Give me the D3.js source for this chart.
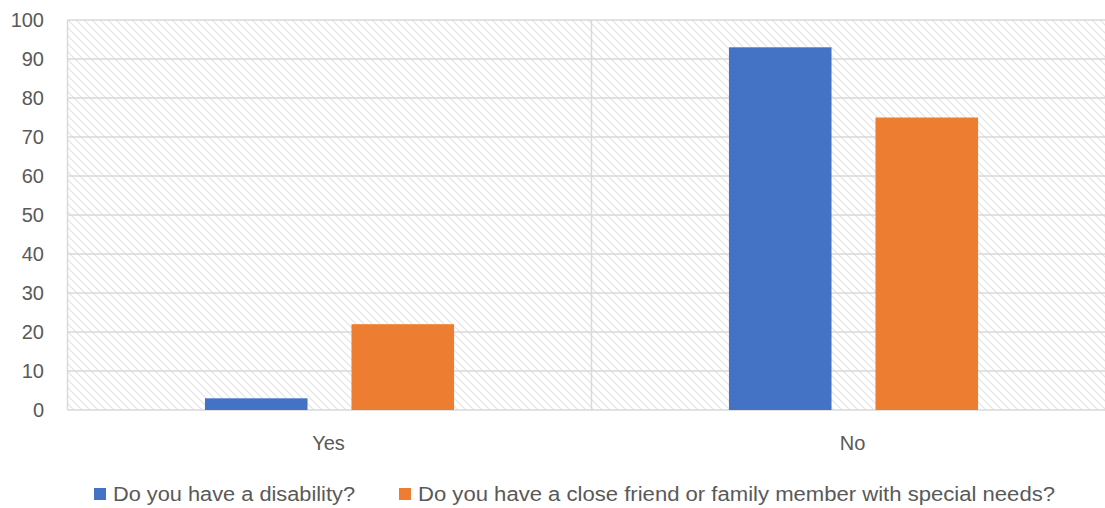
<!DOCTYPE html>
<html>
<head>
<meta charset="utf-8">
<script src="https://cdn.jsdelivr.net/npm/d3@7"></script>
<style>
  body { margin: 0; background: #fff; }
  svg text { font-family: "Liberation Sans", Arial, sans-serif; fill: #595959; }
</style>
</head>
<body>
<div id="chart"></div>
<script>
// data
const categories = ["Yes", "No"];
const seriesNames = ["Do you have a disability?", "Do you have a close friend or family member with special needs?"];
const disability = [3, 93];
const friendFamily = [22, 75];
const yTicks = [0, 10, 20, 30, 40, 50, 60, 70, 80, 90, 100];
const colors = ["#4472c4", "#ed7d31"];

const width = 1105, height = 508;

const svg = d3.select("#chart").append("svg")
    .attr("width", width)
    .attr("height", height);

// hatch pattern for plot background
const defs = svg.append("defs");
const pat = defs.append("pattern")
    .attr("id", "hatch")
    .attr("patternUnits", "userSpaceOnUse")
    .attr("width", 8)
    .attr("height", 8);
pat.append("path")
    .attr("d", "M-2,-2 L10,10 M-2,6 L2,10 M6,-2 L10,2")
    .attr("stroke", "#e2e2e2")
    .attr("stroke-width", 1.2);

const x0 = d3.scaleBand()
    .domain(categories)
    .range([67.5, 1115.5]);

const x1 = d3.scaleBand()
    .domain(seriesNames)
    .range([0, x0.bandwidth()])
    .paddingInner(0.3)
    .paddingOuter(0.938);

const y = d3.scaleLinear()
    .domain([0, 100])
    .range([410, 20]);

svg.append("rect")
    .attr("x", x0.range()[0])
    .attr("y", y(100))
    .attr("width", x0.range()[1] - x0.range()[0])
    .attr("height", y(0) - y(100))
    .attr("fill", "url(#hatch)");

// gridlines
svg.selectAll(".grid")
    .data(yTicks)
    .enter().append("line")
    .attr("class", "grid")
    .attr("x1", x0.range()[0])
    .attr("x2", x0.range()[1])
    .attr("y1", d => y(d))
    .attr("y2", d => y(d))
    .attr("stroke", "#d9d9d9")
    .attr("stroke-width", 1.5);

// category dividers
svg.selectAll(".vdiv")
    .data(categories.concat(["end"]))
    .enter().append("line")
    .attr("class", "vdiv")
    .attr("x1", (d, i) => x0.range()[0] + i * x0.bandwidth())
    .attr("x2", (d, i) => x0.range()[0] + i * x0.bandwidth())
    .attr("y1", y(100))
    .attr("y2", y(0))
    .attr("stroke", "#d9d9d9")
    .attr("stroke-width", 1.5);

// y tick labels
svg.selectAll(".ytick")
    .data(yTicks)
    .enter().append("text")
    .attr("class", "ytick")
    .attr("x", 44)
    .attr("y", d => y(d))
    .attr("dy", "0.36em")
    .attr("text-anchor", "end")
    .style("font-size", "20px")
    .text(d => d);

// bars
const rows = categories.map((c, i) => ({ cat: c, values: [disability[i], friendFamily[i]] }));

const groups = svg.selectAll(".cat")
    .data(rows)
    .enter().append("g")
    .attr("class", "cat")
    .attr("transform", d => "translate(" + x0(d.cat) + ",0)");

groups.selectAll("rect")
    .data(d => d.values.map((v, j) => ({ name: seriesNames[j], value: v, j: j })))
    .enter().append("rect")
    .attr("x", d => x1(d.name))
    .attr("width", x1.bandwidth())
    .attr("y", d => y(d.value))
    .attr("height", d => y(0) - y(d.value))
    .attr("fill", d => colors[d.j]);

// x labels
svg.selectAll(".xlab")
    .data(categories)
    .enter().append("text")
    .attr("class", "xlab")
    .attr("x", d => x0(d) + x0.bandwidth() / 2 - 1)
    .attr("y", 450)
    .attr("text-anchor", "middle")
    .style("font-size", "20px")
    .text(d => d);

// legend
const legendX = [94, 399];
const legendTextWidth = [242, 637];
const legend = svg.selectAll(".legend")
    .data(seriesNames)
    .enter().append("g")
    .attr("class", "legend")
    .attr("transform", (d, i) => "translate(" + legendX[i] + ",488)");

legend.append("rect")
    .attr("width", 12)
    .attr("height", 12)
    .attr("fill", (d, i) => colors[i]);

legend.append("text")
    .attr("x", 19)
    .attr("y", 6)
    .attr("dy", "0.36em")
    .attr("textLength", (d, i) => legendTextWidth[i])
    .attr("lengthAdjust", "spacingAndGlyphs")
    .style("font-size", "20px")
    .text(d => d);
</script>
</body>
</html>
